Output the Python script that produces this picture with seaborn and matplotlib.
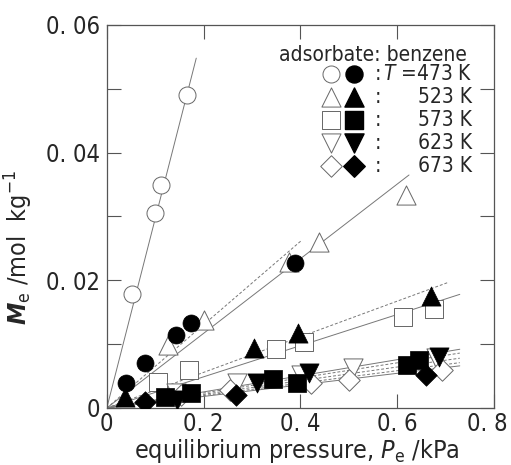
import numpy as np
import pandas as pd
import matplotlib
matplotlib.use("Agg")
import matplotlib.pyplot as plt
import matplotlib.transforms as mtransforms
import seaborn as sns

# ---------------- data ----------------
temps = ["473", "523", "573", "623", "673"]
markers = ["o", "^", "s", "v", "D"]

# open symbols
open_x = {
    "473": [0.052, 0.099, 0.113, 0.165],
    "523": [0.126, 0.202, 0.377, 0.439, 0.618],
    "573": [0.105, 0.171, 0.350, 0.408, 0.612, 0.676],
    "623": [0.144, 0.270, 0.402, 0.510, 0.680],
    "673": [0.154, 0.254, 0.422, 0.500, 0.693],
}
open_y = {
    "473": [0.0178, 0.0305, 0.0350, 0.0490],
    "523": [0.0098, 0.0138, 0.0228, 0.0260, 0.0333],
    "573": [0.0041, 0.0059, 0.0092, 0.0103, 0.0142, 0.0155],
    "623": [0.0023, 0.0039, 0.0051, 0.0063, 0.0078],
    "673": [0.0020, 0.0028, 0.0039, 0.0044, 0.0060],
}
# filled symbols
fill_x = {
    "473": [0.039, 0.078, 0.144, 0.175, 0.390],
    "523": [0.037, 0.305, 0.396, 0.670],
    "573": [0.120, 0.175, 0.344, 0.394, 0.621, 0.645],
    "623": [0.145, 0.311, 0.418, 0.687],
    "673": [0.078, 0.268, 0.660],
}
fill_y = {
    "473": [0.0039, 0.0070, 0.0114, 0.0133, 0.0227],
    "523": [0.0017, 0.0094, 0.0117, 0.0175],
    "573": [0.0017, 0.0023, 0.0045, 0.0039, 0.0067, 0.0075],
    "623": [0.0012, 0.0039, 0.0055, 0.0080],
    "673": [0.0009, 0.0020, 0.0052],
}
# fitted lines (from origin to end point)
solid_end_x = [0.185, 0.625, 0.730, 0.730, 0.730]
solid_end_y = [0.0548, 0.0365, 0.0178, 0.0092, 0.0066]
dash_end_x = [0.402, 0.707, 0.730, 0.730, 0.730]
dash_end_y = [0.0262, 0.0197, 0.0086, 0.0078, 0.0071]

x_ticks = [0, 0.2, 0.4, 0.6, 0.8]
x_ticklabels = ["0", "0. 2", "0. 4", "0. 6", "0. 8"]
y_ticks = [0, 0.02, 0.04, 0.06]
y_ticklabels = ["0", "0. 02", "0. 04", "0. 06"]

# ---------------- style ----------------
sns.set_theme(style="white")
plt.rcParams["font.family"] = ["DejaVu Sans"]
plt.rcParams["font.stretch"] = "condensed"
plt.rcParams["mathtext.fontset"] = "dejavusans"

fig = plt.figure(figsize=(5.11, 4.65), dpi=100)
ax = fig.add_axes([0.209, 0.1226, 0.757, 0.8237])

line_col = "#777777"
edge_col = "#666666"

for i, t in enumerate(temps):
    sns.lineplot(x=[0, solid_end_x[i]], y=[0, solid_end_y[i]], ax=ax,
                 color=line_col, lw=0.7, zorder=1)
    sns.lineplot(x=[0, dash_end_x[i]], y=[0, dash_end_y[i]], ax=ax,
                 color=line_col, lw=0.7, linestyle=(0, (3, 2)), zorder=1)

msize = {"o": 150, "^": 190, "s": 150, "v": 190, "D": 120}
for i, t in enumerate(temps):
    m = markers[i]
    sns.scatterplot(x=open_x[t], y=open_y[t], ax=ax, marker=m, s=msize[m],
                    facecolor="white", edgecolor=edge_col, linewidth=0.7, zorder=3)
    sns.scatterplot(x=fill_x[t], y=fill_y[t], ax=ax, marker=m, s=msize[m],
                    color="black", edgecolor="black", linewidth=0.5, zorder=4)

ax.set_xlim(0, 0.8)
ax.set_ylim(0, 0.06)
ax.set_xticks(x_ticks)
ax.set_xticklabels(x_ticklabels)
ax.set_yticks(y_ticks)
ax.set_yticklabels(y_ticklabels)
ax.set_yticks([0.01, 0.03, 0.05], minor=True)
ax.tick_params(which="both", direction="in", top=True, right=True, bottom=True, left=True,
               length=10, width=0.8, color="#555555", labelsize=17, pad=5)
ax.tick_params(axis="x", pad=3)
for sp in ax.spines.values():
    sp.set_color("#555555")
    sp.set_linewidth(0.9)

# nudge last x tick label inward so it stays inside the canvas
last = ax.get_xticklabels()[-1]
last.set_transform(last.get_transform() +
                   mtransforms.ScaledTranslation(-6 / 100, 0, fig.dpi_scale_trans))

ax.set_xlabel("equilibrium pressure, $\\it{P}_{\\rm e}$ /kPa", fontsize=18)
ax.set_ylabel("$\\mathbfit{M}_{\\rm e}$ /mol  kg$^{-1}$", fontsize=18)
ax.xaxis.set_label_coords(0.49, -0.075)
ax.yaxis.set_label_coords(-0.185, 0.42)

# legend block
tr = ax.transAxes
ax.text(0.445, 0.922, "adsorbate: benzene", transform=tr, fontsize=15, ha="left", va="center")
leg_labels = ["$\\it{T}$ =473 K", "523 K", "573 K", "623 K", "673 K"]
row_y = [0.872, 0.8125, 0.7525, 0.6925, 0.632]
for i, t in enumerate(temps):
    m = markers[i]
    ax.scatter([0.58], [row_y[i]], transform=tr, marker=m, s=msize[m],
               facecolor="white", edgecolor=edge_col, linewidth=0.7, clip_on=False)
    ax.scatter([0.64], [row_y[i]], transform=tr, marker=m, s=msize[m],
               color="black", clip_on=False)
    ax.text(0.70, row_y[i], ":", transform=tr, fontsize=15, ha="center", va="center")
    ax.text(0.945, row_y[i], leg_labels[i], transform=tr, fontsize=15, ha="right", va="center")

fig.savefig("out.png", dpi=100)
